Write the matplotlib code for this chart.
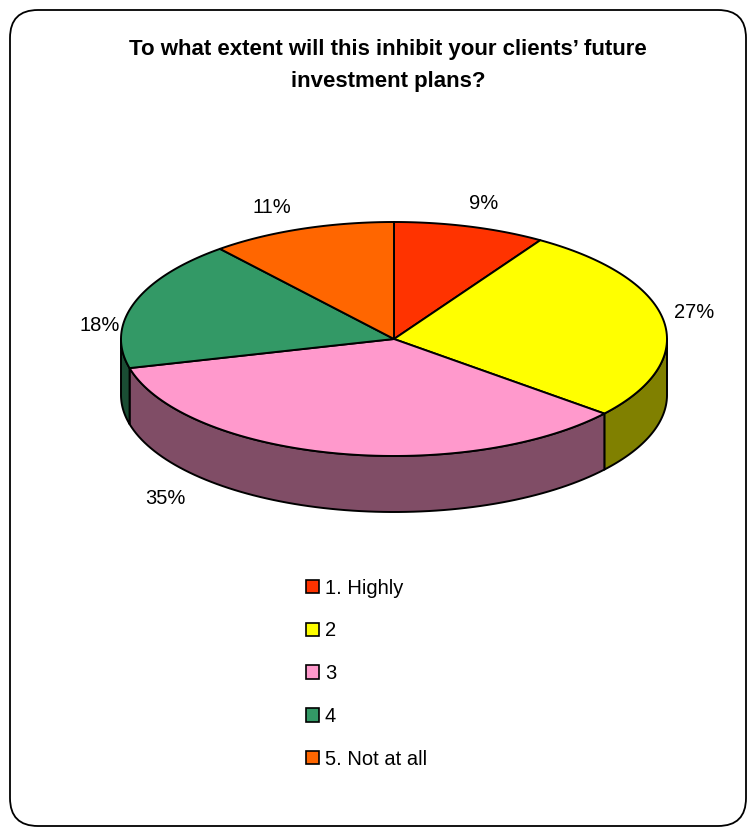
import matplotlib as mpl
mpl.use('Agg')
import matplotlib.pyplot as plt
from matplotlib.patches import Polygon, FancyBboxPatch, Patch
import numpy as np

plt.rcParams['font.family'] = ['Liberation Sans', 'DejaVu Sans']

# Survey answers (percent of respondents)
labels = ['1. Highly', '2', '3', '4', '5. Not at all']
values = [9, 27, 35, 18, 11]
colors = ['#FF3300', '#FFFF00', '#FF99CC', '#339966', '#FF6600']
# label anchors for the percent texts, one per slice
label_pos = [(484, 203), (694, 312), (165, 498), (100, 325), (272, 207)]

title = 'To what extent will this inhibit your clients\u2019 future\ninvestment plans?'

# pie geometry in pixel space
cx, cy = 394, 339
rx, ry = 273, 117
depth = 56


def darker(c):
    r, g, b = mpl.colors.to_rgb(c)
    return (r * 0.5, g * 0.5, b * 0.5)


def arc(t0, t1, dy=0, n=80):
    t = np.radians(np.linspace(t0, t1, n))
    return np.column_stack([cx + rx * np.cos(t), cy - ry * np.sin(t) + dy])


fig = plt.figure(figsize=(7.55, 8.33), dpi=100)
ax = fig.add_axes([0, 0, 1, 1])
ax.set_xlim(0, 755)
ax.set_ylim(833, 0)
ax.axis('off')

# outer rounded frame
ax.add_patch(FancyBboxPatch((10, 10), 736, 816, boxstyle='round,pad=0,rounding_size=28',
                            fc='white', ec='black', lw=1.3))

# slice angles, clockwise from 12 o'clock
total = float(sum(values))
starts = []
a = 90.0
for v in values:
    starts.append((a, a - 360.0 * v / total))
    a -= 360.0 * v / total

# side walls: only the front half (180..360 deg) shows
for (a0, a1), c in zip(starts, colors):
    lo, hi = a1 % 360, a1 % 360 + (a0 - a1)
    for base in (0, 360, -360):
        s0 = max(lo, 180 + base)
        s1 = min(hi, 360 + base)
        if s1 > s0:
            top = arc(s0, s1)
            bot = arc(s1, s0, depth)
            ax.add_patch(Polygon(np.vstack([top, bot]), closed=True,
                                 fc=darker(c), ec='black', lw=1.4, joinstyle='round'))

# top faces
for (a0, a1), c in zip(starts, colors):
    pts = np.vstack([[cx, cy], arc(a0, a1)])
    ax.add_patch(Polygon(pts, closed=True, fc=c, ec='black', lw=1.4, joinstyle='round'))

# percent labels
for v, (lx, ly) in zip(values, label_pos):
    ax.text(lx, ly, '%d%%' % v, ha='center', va='center', fontsize=14.5)

ax.text(388, 65.5, title, ha='center', va='center', fontsize=16, fontweight='bold',
        linespacing=1.65)

handles = [Patch(fc=c, ec='black', lw=1.2) for c in colors]
fig.legend(handles, labels, loc='upper left', bbox_to_anchor=(0.381, 0.327),
           frameon=False, fontsize=14.5, handlelength=0.65, handleheight=0.65,
           handletextpad=0.3, labelspacing=1.18)

fig.savefig('out.png', dpi=100)
